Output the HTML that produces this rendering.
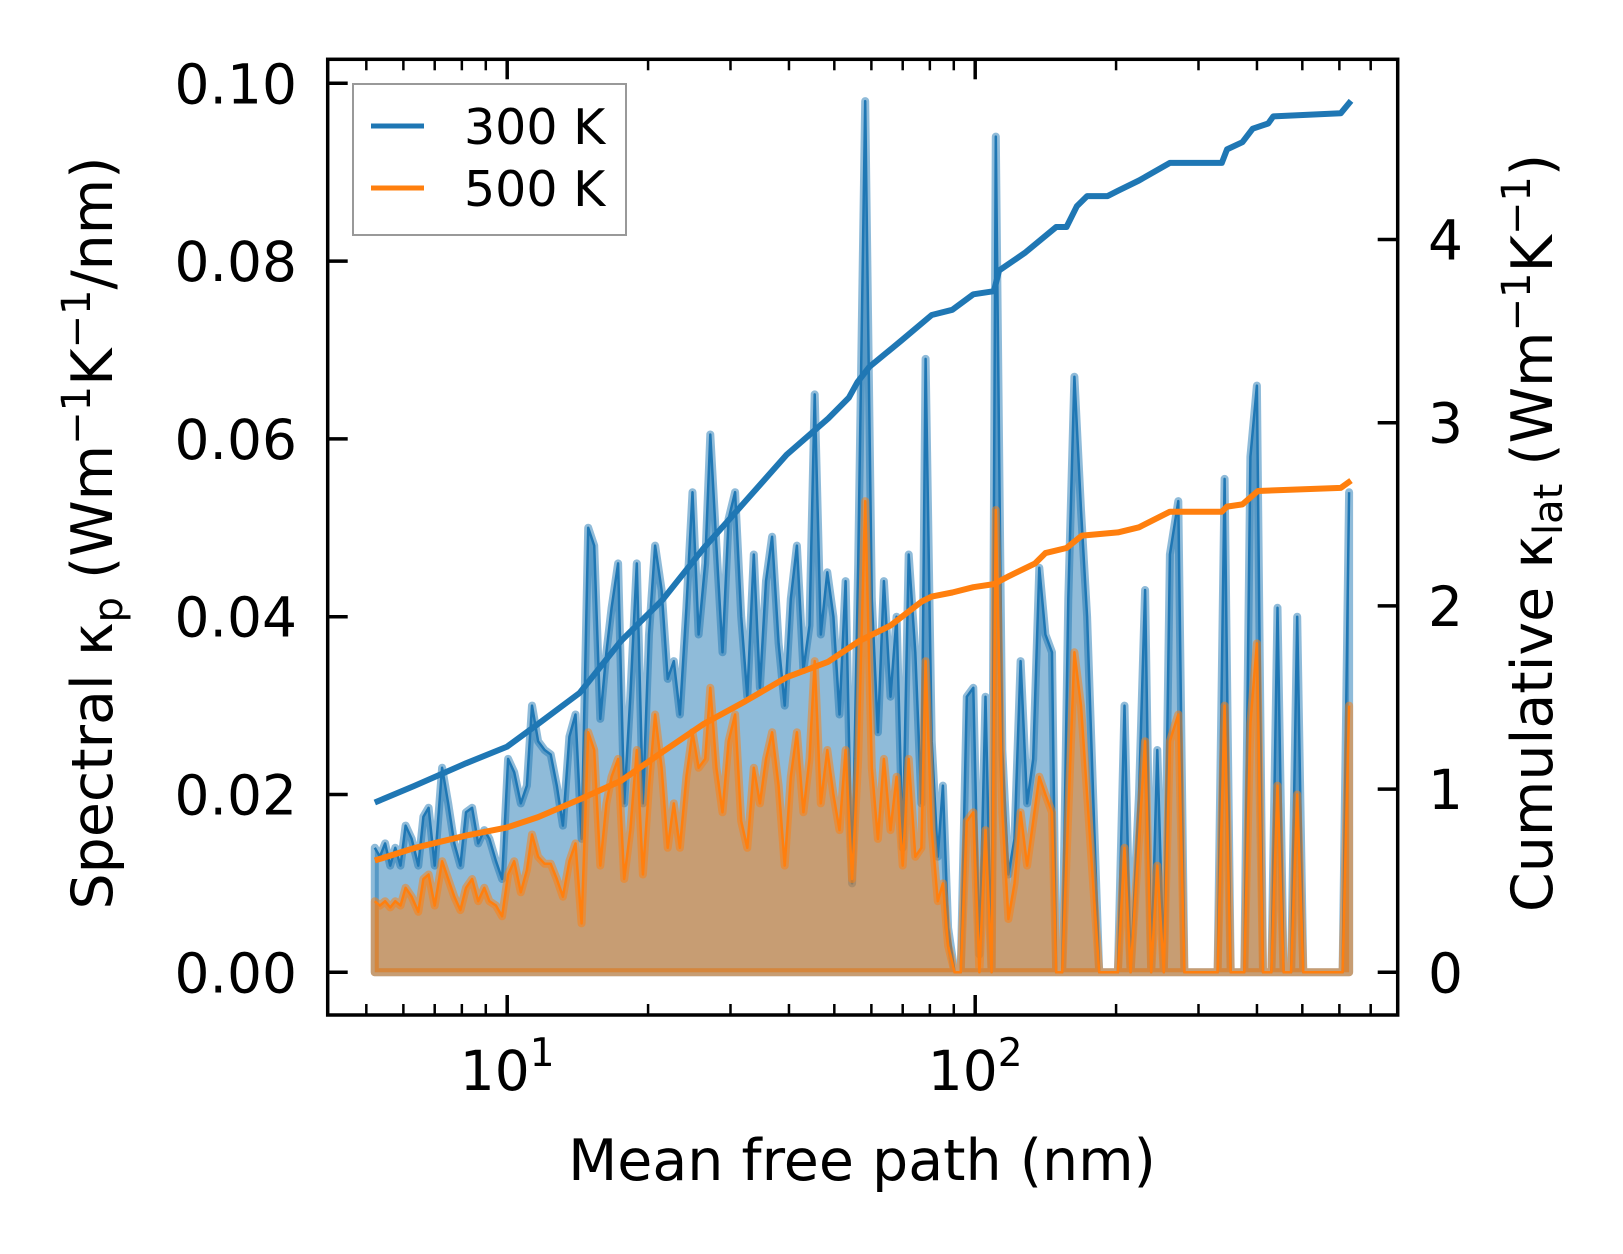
<!DOCTYPE html>
<html><head><meta charset="utf-8"><style>
html,body{margin:0;padding:0;background:#fff}
svg{display:block;font-family:"DejaVu Sans","Liberation Sans",sans-serif}
</style></head><body>
<svg id="chart" width="1623" height="1254" viewBox="0 0 1623 1254" xmlns="http://www.w3.org/2000/svg">
<rect x="0" y="0" width="1623" height="1254" fill="#fff"/>
<g id="plot"></g>
<g id="axes"></g>
</svg>
<script>
// ---- data ----
const log10Mfp = [0.717,0.728,0.739,0.750,0.761,0.772,0.783,0.796,0.810,0.821,0.832,0.845,0.861,0.874,0.887,0.900,0.912,0.925,0.938,0.951,0.962,0.976,0.989,1.002,1.015,1.029,1.042,1.053,1.066,1.080,1.093,1.106,1.119,1.133,1.146,1.159,1.173,1.186,1.199,1.212,1.223,1.237,1.250,1.263,1.277,1.290,1.303,1.316,1.330,1.343,1.356,1.369,1.383,1.396,1.409,1.423,1.434,1.447,1.460,1.473,1.487,1.500,1.513,1.527,1.540,1.553,1.566,1.580,1.593,1.606,1.619,1.633,1.646,1.657,1.670,1.684,1.697,1.710,1.723,1.737,1.750,1.765,1.779,1.792,1.805,1.819,1.832,1.845,1.858,1.872,1.885,1.894,1.907,1.920,1.931,1.942,1.956,1.969,1.982,1.996,2.009,2.022,2.035,2.044,2.058,2.071,2.084,2.097,2.111,2.124,2.137,2.150,2.164,2.173,2.186,2.199,2.212,2.226,2.239,2.252,2.265,2.305,2.319,2.332,2.350,2.363,2.376,2.389,2.403,2.416,2.434,2.447,2.518,2.533,2.546,2.575,2.588,2.602,2.615,2.633,2.646,2.659,2.675,2.688,2.701,2.785,2.799];
const spectral300 = [0.014,0.013,0.0145,0.012,0.014,0.012,0.0165,0.015,0.012,0.0175,0.0185,0.012,0.023,0.019,0.0145,0.012,0.018,0.0185,0.0145,0.016,0.015,0.0125,0.0105,0.024,0.0225,0.019,0.021,0.030,0.026,0.025,0.0245,0.021,0.0165,0.0265,0.029,0.015,0.050,0.048,0.0285,0.036,0.041,0.046,0.019,0.031,0.046,0.019,0.038,0.048,0.043,0.033,0.035,0.029,0.041,0.054,0.038,0.046,0.0605,0.048,0.036,0.051,0.054,0.040,0.031,0.047,0.032,0.044,0.049,0.037,0.030,0.042,0.048,0.034,0.039,0.065,0.038,0.045,0.040,0.029,0.044,0.010,0.046,0.098,0.042,0.027,0.044,0.031,0.040,0.014,0.047,0.036,0.019,0.069,0.026,0.013,0.021,0.005,0,0,0.031,0.032,0.002,0.031,0,0.094,0.025,0.011,0.015,0.035,0.019,0.024,0.0455,0.038,0.036,0,0,0.042,0.067,0.052,0.040,0.020,0,0,0.030,0,0.020,0.043,0,0.025,0,0.047,0.053,0,0,0.0555,0,0,0.058,0.066,0,0,0.041,0,0,0.040,0,0,0.054];
const spectral500 = [0.008,0.0075,0.008,0.0073,0.008,0.0075,0.0095,0.0085,0.0068,0.0105,0.011,0.0075,0.0125,0.0105,0.0085,0.007,0.0095,0.0105,0.008,0.0095,0.008,0.0075,0.0063,0.011,0.0125,0.009,0.0115,0.0155,0.013,0.0122,0.0122,0.0105,0.0085,0.0125,0.0145,0.0055,0.027,0.025,0.012,0.019,0.022,0.024,0.0105,0.016,0.025,0.011,0.021,0.029,0.023,0.014,0.019,0.014,0.022,0.027,0.023,0.024,0.032,0.023,0.018,0.026,0.029,0.017,0.014,0.023,0.019,0.024,0.027,0.021,0.012,0.022,0.027,0.018,0.024,0.035,0.019,0.025,0.020,0.016,0.025,0.0105,0.024,0.053,0.023,0.015,0.024,0.016,0.022,0.012,0.024,0.013,0.014,0.035,0.016,0.008,0.010,0.003,0,0,0.017,0.018,0,0.016,0,0.052,0.018,0.006,0.010,0.018,0.012,0.017,0.022,0.020,0.018,0,0,0.018,0.036,0.030,0.020,0.010,0,0,0.014,0,0.015,0.026,0,0.012,0,0.026,0.029,0,0,0.030,0,0,0.028,0.037,0,0,0.021,0,0,0.020,0,0,0.030];
const cumLog300 = [0.717,0.801,0.912,1.0,1.066,1.155,1.243,1.332,1.420,1.509,1.597,1.686,1.730,1.748,1.774,1.841,1.907,1.951,1.996,2.040,2.051,2.106,2.173,2.195,2.217,2.239,2.283,2.305,2.350,2.416,2.527,2.538,2.571,2.593,2.626,2.637,2.781,2.803];
const cum300 = [0.927,1.017,1.141,1.232,1.356,1.525,1.808,2.034,2.316,2.571,2.825,3.023,3.136,3.220,3.305,3.446,3.588,3.616,3.701,3.718,3.831,3.927,4.068,4.068,4.181,4.237,4.237,4.266,4.322,4.418,4.418,4.492,4.531,4.605,4.633,4.672,4.689,4.757];
const cumLog500 = [0.717,0.801,0.912,1.0,1.066,1.155,1.243,1.332,1.420,1.509,1.597,1.686,1.752,1.819,1.885,1.907,1.951,1.996,2.040,2.073,2.128,2.150,2.195,2.228,2.305,2.350,2.416,2.527,2.538,2.571,2.604,2.781,2.803];
const cum500 = [0.610,0.678,0.746,0.791,0.847,0.944,1.045,1.203,1.356,1.480,1.610,1.695,1.808,1.893,2.023,2.051,2.073,2.102,2.119,2.164,2.232,2.288,2.316,2.384,2.401,2.429,2.514,2.514,2.542,2.554,2.627,2.644,2.684];
const leftTicks = [0,0.02,0.04,0.06,0.08,0.10];
const leftTickLabels = ["0.00","0.02","0.04","0.06","0.08","0.10"];
const rightTicks = [0,1,2,3,4];
const xMajorExp = [1,2];
const xMinor = [5,6,7,8,9,20,30,40,50,60,70,80,90,200,300,400,500,600,700];

// ---- scales ----
const AX = {l:327.7, r:1397.7, t:59.3, b:1015};
function xS(lg){ return 507.2 + (lg-1)*468; }
function yL(v){ return 972.3 - v*8890; }
function yR(v){ return 972.3 - v*183.2; }
const NS="http://www.w3.org/2000/svg";
function mk(tag, attrs, parent){ const e=document.createElementNS(NS,tag); for(const k in attrs) e.setAttribute(k,attrs[k]); parent.appendChild(e); return e; }
const plot=document.getElementById('plot'), axes=document.getElementById('axes');
const clip=mk('clipPath',{id:'clipAx'},plot);
mk('rect',{x:AX.l,y:AX.t,width:AX.r-AX.l,height:AX.b-AX.t},clip);
plot.setAttribute('clip-path','url(#clipAx)');

function areaPath(vals){
  let d='M'+xS(log10Mfp[0])+','+yL(0);
  for(let i=0;i<vals.length;i++) d+=' L'+xS(log10Mfp[i]).toFixed(1)+','+yL(vals[i]).toFixed(1);
  d+=' L'+xS(log10Mfp[log10Mfp.length-1])+','+yL(0)+' Z';
  return d;
}
function linePath(xs,vals,yf){
  let d='';
  for(let i=0;i<vals.length;i++) d+=(i?' L':'M')+xS(xs[i]).toFixed(1)+','+yf(vals[i]).toFixed(1);
  return d;
}
function drawSpectral(vals,color,name){
  const a=mk('path',{d:areaPath(vals),fill:color,'fill-opacity':0.5,stroke:color,'stroke-opacity':0.5,'stroke-width':8,'stroke-linejoin':'round'},plot);
  
  
  const l=mk('path',{d:linePath(log10Mfp,vals,yL),fill:'none',stroke:color,'stroke-width':2.5,'stroke-linejoin':'round'},plot);
  
  
}
drawSpectral(spectral300,'#1f77b4','spectral-300k');
drawSpectral(spectral500,'#ff7f0e','spectral-500k');
const c3=mk('path',{d:linePath(cumLog300,cum300,yR),fill:'none',stroke:'#1f77b4','stroke-width':6,'stroke-linejoin':'round'},plot);


const c5=mk('path',{d:linePath(cumLog500,cum500,yR),fill:'none',stroke:'#ff7f0e','stroke-width':6,'stroke-linejoin':'round'},plot);



// ---- axes ----
const frame=mk('rect',{x:AX.l,y:AX.t,width:AX.r-AX.l,height:AX.b-AX.t,fill:'none',stroke:'#000','stroke-width':3.5},axes);


leftTicks.forEach((v,i)=>{
  const y=yL(v);
  const t=mk('line',{x1:AX.l,x2:AX.l+20,y1:y,y2:y,stroke:'#000','stroke-width':3.5},axes);
  
  
  const tx=mk('text',{x:297,y:y+20,'font-size':55,'text-anchor':'end',fill:'#000'},axes);
  tx.textContent=leftTickLabels[i];
  
  
});
rightTicks.forEach(v=>{
  const y=yR(v);
  const t=mk('line',{x1:AX.r-20,x2:AX.r,y1:y,y2:y,stroke:'#000','stroke-width':3.5},axes);
  
  
  const tx=mk('text',{x:1428,y:y+20,'font-size':55,fill:'#000'},axes);
  tx.textContent=String(v);
  
  
});
xMajorExp.forEach(e=>{
  const x=xS(e);
  [[AX.b,AX.b-20],[AX.t,AX.t+20]].forEach(p=>{
    const t=mk('line',{x1:x,x2:x,y1:p[0],y2:p[1],stroke:'#000','stroke-width':3.5},axes);
    
    
  });
  const tx=mk('text',{x:x,y:1090,'font-size':55,'text-anchor':'middle',fill:'#000'},axes);
  
  
  const a=mk('tspan',{},tx); a.textContent='10';
  const b=mk('tspan',{'font-size':39,dy:-24}, tx); b.textContent=String(e);
});
xMinor.forEach(m=>{
  const x=xS(Math.log10(m));
  [[AX.b,AX.b-11],[AX.t,AX.t+11]].forEach(p=>{
    const t=mk('line',{x1:x,x2:x,y1:p[0],y2:p[1],stroke:'#000','stroke-width':2.5},axes);
    
    
  });
});
</script>
<svg style="position:absolute;left:0;top:0" width="1623" height="1254" xmlns="http://www.w3.org/2000/svg">
<text x="862" y="1180" font-size="57" text-anchor="middle" font-family="DejaVu Sans, Liberation Sans, sans-serif">Mean free path (nm)</text>
<text transform="translate(112,533) rotate(-90)" font-size="57" text-anchor="middle" font-family="DejaVu Sans, Liberation Sans, sans-serif">Spectral κ<tspan font-size="40" dy="10">p</tspan><tspan dy="-10"> (Wm</tspan><tspan font-size="40" dy="-22">−1</tspan><tspan dy="22">K</tspan><tspan font-size="40" dy="-22">−1</tspan><tspan dy="22">/nm)</tspan></text>
<text transform="translate(1552,533) rotate(-90)" font-size="57" text-anchor="middle" font-family="DejaVu Sans, Liberation Sans, sans-serif">Cumulative κ<tspan font-size="40" dy="10">lat</tspan><tspan dy="-10"> (Wm</tspan><tspan font-size="40" dy="-22">−1</tspan><tspan dy="22">K</tspan><tspan font-size="40" dy="-22">−1</tspan><tspan dy="22">)</tspan></text>
<g>
<rect x="353" y="84" width="273" height="151" fill="#fff" fill-opacity="0.8" stroke="#999" stroke-width="2"/>
<line x1="371" x2="424" y1="126" y2="126" stroke="#1f77b4" stroke-width="5"/>
<text x="464" y="144" font-size="49" font-family="DejaVu Sans, Liberation Sans, sans-serif">300 K</text>
<line x1="371" x2="424" y1="188" y2="188" stroke="#ff7f0e" stroke-width="5"/>
<text x="464" y="206" font-size="49" font-family="DejaVu Sans, Liberation Sans, sans-serif">500 K</text>
</g>
</svg>
</body></html>
